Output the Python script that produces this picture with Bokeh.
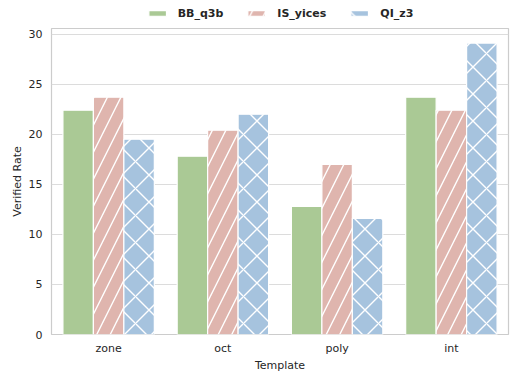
from bokeh.plotting import figure
from bokeh.layouts import column
from bokeh.models import ColumnDataSource, FactorRange, Range1d, Legend, LegendItem, FixedTicker
from bokeh.transform import dodge
from bokeh.embed import file_html
from bokeh.resources import INLINE

templates = ["zone", "oct", "poly", "int"]
series_names = ["BB_q3b", "IS_yices", "QI_z3"]
bb_q3b = [22.4, 17.8, 12.8, 23.7]
is_yices = [23.7, 20.4, 17.0, 22.4]
qi_z3 = [19.5, 22.0, 11.6, 29.1]
y_ticks = [0, 5, 10, 15, 20, 25, 30]

colors = ["#aac995", "#dfb5ae", "#a6c3de"]
hatches = [None, "/", "x"]

src = ColumnDataSource(dict(template=templates, BB_q3b=bb_q3b, IS_yices=is_yices, QI_z3=qi_z3))

FONT = "DejaVu Sans"
FW, FH = 457, 306
BL, BR, BT, BB = 51, 3, 2, 36
LH = 26

p = figure(x_range=FactorRange(factors=templates, range_padding=0),
           y_range=Range1d(0, 30.56),
           width=BL + FW + BR, height=BT + FH + BB,
           frame_width=FW, frame_height=FH,
           output_backend="svg", toolbar_location=None,
           min_border_left=BL, min_border_right=BR, min_border_top=BT, min_border_bottom=BB)

# legend strip: same bars, drawn in a y range where they are not visible
lg = figure(x_range=p.x_range, y_range=Range1d(1000, 1001),
            width=BL + FW + BR, height=LH, frame_width=FW, frame_height=LH,
            x_axis_type=None, y_axis_type=None,
            output_backend="svg", toolbar_location=None,
            min_border_left=BL, min_border_right=BR, min_border_top=0, min_border_bottom=0)
lg.outline_line_color = None
lg.xgrid.grid_line_color = None
lg.ygrid.grid_line_color = None

bw = 0.8 / 3
items = []
for i, (name, col, h) in enumerate(zip(series_names, colors, hatches)):
    kw = dict(fill_color=col, line_color="white", line_width=1.2)
    if h:
        kw.update(hatch_pattern=h, hatch_color="white", hatch_weight=1.4, hatch_scale=27)
    p.vbar(x=dodge("template", (i - 1) * bw, range=p.x_range), top=name, width=bw,
           source=src, **kw)
    r = lg.vbar(x=dodge("template", (i - 1) * bw, range=p.x_range), top=name, width=bw,
                source=src, **kw)
    items.append(LegendItem(label=name, renderers=[r]))

legend = Legend(items=items, orientation="horizontal", location="center",
                border_line_color=None, background_fill_alpha=0,
                label_text_font=FONT, label_text_font_style="bold", label_text_font_size="11px",
                label_text_color="#262626", glyph_width=22, glyph_height=7,
                spacing=22, padding=2, margin=0, label_standoff=10)
lg.add_layout(legend, "center")

p.yaxis.ticker = FixedTicker(ticks=y_ticks)
p.xgrid.grid_line_color = None
p.ygrid.grid_line_color = "#dcdcdc"
p.ygrid.grid_line_width = 1.2
p.outline_line_color = "#cccccc"
p.outline_line_width = 1.2
for ax in (p.xaxis, p.yaxis):
    ax.axis_line_color = None
    ax.major_tick_line_color = None
    ax.minor_tick_line_color = None
    ax.major_label_text_font = FONT
    ax.major_label_text_font_size = "11px"
    ax.major_label_text_color = "#262626"
    ax.axis_label_text_font = FONT
    ax.axis_label_text_font_size = "11px"
    ax.axis_label_text_font_style = "normal"
    ax.axis_label_text_color = "#262626"
p.xaxis.axis_label = "Template"
p.yaxis.axis_label = "Verified Rate"
p.xaxis.major_label_standoff = 1
p.yaxis.major_label_standoff = 3
p.xaxis.axis_label_standoff = 1
p.yaxis.axis_label_standoff = 2

layout = column(lg, p, spacing=0)
open("out.html", "w").write(file_html(layout, INLINE))
